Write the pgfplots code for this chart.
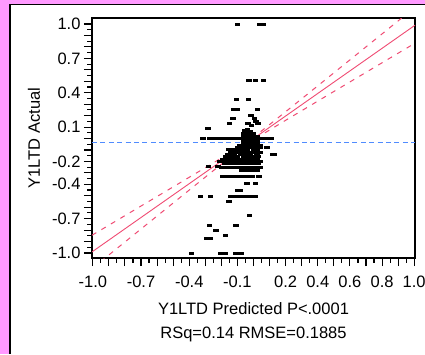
\documentclass[border=0pt]{standalone}
\usepackage{fontspec}
\setmainfont{Liberation Sans}
\usepackage{pgfplots}
\pgfplotsset{compat=1.18}
\definecolor{bgpink}{RGB}{255,153,255}
\definecolor{fitred}{RGB}{240,75,115}
\definecolor{meanblue}{RGB}{80,140,255}
\pgfdeclareplotmark{jmpbar}{\pgfpathrectangle{\pgfpoint{-2.8pt}{-1.5pt}}{\pgfpoint{5.6pt}{3pt}}\pgfusepathqfill}
\begin{document}
\begin{tikzpicture}
\useasboundingbox (0,0) rectangle (425pt,354pt);
\fill[bgpink] (0,0) rectangle (425pt,354pt);
\fill[white] (10pt,0) rectangle (425pt,349.7pt);
\draw[black,line width=1.2pt] (10pt,0) -- (10pt,349.7pt) -- (426pt,349.7pt);
\begin{axis}[
  at={(92pt,96pt)}, anchor=south west, scale only axis,
  width=323pt, height=240pt,
  xmin=-1.005, xmax=1.005, ymin=-1.0437, ymax=1.0524,
  axis line style={line width=1.2pt},
  tick align=outside, xtick pos=bottom, ytick pos=left,
  major tick length=8pt, minor tick length=4.5pt, minor tick num=1,
  every tick/.style={black,line width=1.1pt},
  xtick={-1,-0.9,-0.8,-0.7,-0.6,-0.5,-0.4,-0.3,-0.2,-0.1,0,0.1,0.2,0.3,0.4,0.5,0.6,0.7,0.8,0.9,1},
  ytick={-1,-0.9,-0.8,-0.7,-0.6,-0.5,-0.4,-0.3,-0.2,-0.1,0,0.1,0.2,0.3,0.4,0.5,0.6,0.7,0.8,0.9,1},
  xticklabels={-1.0,,,-0.7,,,-0.4,,,-0.1,,,0.2,,0.4,,0.6,,0.8,,1.0},
  yticklabels={-1.0,,,-0.7,,,-0.4,,-0.2,,,0.1,,,0.4,,,0.7,,,1.0},
  ticklabel style={font=\fontsize{16.5}{19}\selectfont},
  xticklabel style={yshift=-6pt},
  xlabel={Y1LTD Predicted P<.0001\\RSq=0.14 RMSE=0.1885},
  xlabel style={at={(rel axis cs:0.5,0)}, anchor=north, yshift=-41pt, align=center, font=\fontsize{16.5}{24}\selectfont},
  ylabel={Y1LTD Actual},
  ylabel style={at={(rel axis cs:-0.1796,0.5)}, anchor=center, font=\fontsize{16.5}{19}\selectfont},
]
% mean of actual
\addplot[meanblue, line width=1.3pt, dash pattern=on 5pt off 3.4pt] coordinates {(-1.005,-0.037) (1.005,-0.037)};
% points
\addplot[only marks, mark=jmpbar, black] coordinates {
(-0.100,1.0) (0.040,1.0) (0.058,1.0)
(-0.029,0.505) (0.012,0.505) (0.062,0.505)
(-0.106,0.338) (-0.032,0.338)
(-0.122,0.257) (-0.104,0.257) (0.025,0.257)
(-0.014,0.205) (-0.128,0.176) (0.006,0.176) (0.017,0.150) (-0.149,0.133) (-0.035,0.133) (0.027,0.133) (-0.012,0.110)
(-0.284,0.089)
(-0.055,0.072) (-0.038,0.075)
(-0.315,0.0) (-0.270,0.0) (-0.250,0.0) (-0.230,0.0) (-0.210,0.0) (-0.190,0.0) (-0.170,0.0) (-0.150,0.0) (-0.130,0.0) (-0.110,0.0) (-0.090,0.0) (-0.070,0.0) (-0.050,0.0) (-0.030,0.0) (-0.010,0.0) (0.010,0.0) (0.030,0.0) (0.050,0.0) (0.070,0.0) (0.090,0.0) (0.110,0.0)
(-0.04,0.06) (-0.02,0.06)
(-0.06,0.04) (-0.04,0.04) (-0.02,0.04) (0.0,0.04)
(-0.06,0.02) (-0.04,0.02) (-0.02,0.02) (0.0,0.02) (0.02,0.02)
(-0.06,-0.02) (-0.04,-0.02) (-0.02,-0.02) (0.0,-0.02) (0.02,-0.02)
(-0.06,-0.04) (-0.04,-0.04) (-0.02,-0.04) (0.0,-0.04) (0.02,-0.04)
(-0.08,-0.06) (-0.06,-0.06) (-0.04,-0.06) (-0.02,-0.06) (0.0,-0.06) (0.02,-0.06) (0.04,-0.06)
(-0.10,-0.08) (-0.08,-0.08) (-0.06,-0.08) (-0.04,-0.08) (-0.02,-0.08) (0.0,-0.08) (0.02,-0.08) (0.04,-0.08)
(-0.12,-0.10) (-0.10,-0.10) (-0.08,-0.10) (-0.06,-0.10) (-0.04,-0.10) (0.0,-0.10) (0.02,-0.10)
(-0.14,-0.12) (-0.12,-0.12) (-0.10,-0.12) (-0.08,-0.12) (-0.06,-0.12) (-0.04,-0.12) (-0.02,-0.12) (0.0,-0.12) (0.02,-0.12) (0.04,-0.12)
(-0.16,-0.14) (-0.14,-0.14) (-0.12,-0.14) (-0.08,-0.14) (-0.06,-0.14) (-0.04,-0.14) (-0.02,-0.14) (0.02,-0.14)
(-0.17,-0.16) (-0.15,-0.16) (-0.12,-0.16) (-0.10,-0.16) (-0.06,-0.16) (-0.04,-0.16) (-0.02,-0.16) (0.0,-0.16) (0.03,-0.16)
(-0.19,-0.18) (-0.17,-0.18) (-0.14,-0.18) (-0.12,-0.18) (-0.10,-0.18) (-0.08,-0.18) (-0.05,-0.18) (-0.03,-0.18) (0.0,-0.18) (0.02,-0.18)
(-0.21,-0.20) (-0.19,-0.20) (-0.16,-0.20) (-0.13,-0.20) (-0.11,-0.20) (-0.08,-0.20) (-0.06,-0.20) (-0.04,-0.20) (-0.01,-0.20) (0.02,-0.20) (0.04,-0.20)
(-0.18,-0.22) (-0.15,-0.22) (-0.12,-0.22) (-0.09,-0.22) (-0.06,-0.22) (-0.03,-0.22) (0.0,-0.22) (0.03,-0.22)
(-0.20,-0.25) (-0.18,-0.25) (-0.16,-0.25) (-0.14,-0.25) (-0.12,-0.25) (-0.10,-0.25) (-0.08,-0.25) (-0.06,-0.25) (-0.04,-0.25) (-0.02,-0.25) (0.0,-0.25) (0.02,-0.25) (0.04,-0.25)
(-0.07,-0.28) (-0.04,-0.28) (-0.01,-0.28) (0.02,-0.28)
(-0.19,-0.333) (-0.17,-0.333) (-0.15,-0.333) (-0.13,-0.333) (-0.11,-0.333) (-0.09,-0.333) (-0.07,-0.333) (-0.05,-0.333) (-0.03,-0.333) (-0.01,-0.333) (0.033,-0.333)
(0.085,-0.080) (0.118,-0.137) (0.130,-0.137)
(-0.087,-0.057) (-0.155,-0.100)
(-0.280,-0.248) (-0.220,-0.248)
(-0.042,-0.390) (0.012,-0.390)
(-0.100,-0.450) (-0.080,-0.450)
(-0.330,-0.505) (-0.267,-0.505) (-0.143,-0.505) (-0.110,-0.505) (-0.090,-0.505) (-0.070,-0.505) (-0.050,-0.505) (-0.020,-0.505) (0.010,-0.505)
(-0.153,-0.546)
(-0.025,-0.674)
(-0.273,-0.757) (-0.108,-0.757)
(-0.232,-0.800)
(-0.174,-0.843)
(-0.290,-0.870) (-0.268,-0.870)
(-0.387,-1.0) (-0.205,-1.0) (-0.175,-1.0) (-0.110,-1.0) (-0.075,-1.0)
};
% fit line
\addplot[fitred, line width=0.9pt] coordinates {(-1.005,-0.9905) (1.005,0.9894)};
% confidence curves
\addplot[fitred, line width=1pt, dash pattern=on 5pt off 6pt, smooth] coordinates {
(-1.005,-0.8448) (-0.9,-0.7571) (-0.8,-0.6735) (-0.7,-0.5899) (-0.6,-0.5063) (-0.5,-0.4226) (-0.4,-0.3388) (-0.3,-0.2549) (-0.2,-0.1704) (-0.15,-0.1275) (-0.1,-0.0838) (-0.037,-0.025) (0,0.0126) (0.05,0.0664) (0.1,0.1217) (0.2,0.2339) (0.3,0.3469) (0.4,0.4600) (0.5,0.5733) (0.6,0.6867) (0.7,0.8001) (0.8,0.9135) (0.9,1.0270) (1.005,1.1462)};
\addplot[fitred, line width=1pt, dash pattern=on 5pt off 6pt, smooth] coordinates {
(-1.005,-1.1362) (-0.9,-1.0171) (-0.8,-0.9037) (-0.7,-0.7903) (-0.6,-0.6769) (-0.5,-0.5636) (-0.4,-0.4504) (-0.3,-0.3373) (-0.2,-0.2248) (-0.15,-0.1691) (-0.1,-0.1144) (-0.037,-0.049) (0,-0.0138) (0.05,0.031) (0.1,0.0741) (0.2,0.1589) (0.3,0.2429) (0.4,0.3268) (0.5,0.4105) (0.6,0.4941) (0.7,0.5777) (0.8,0.6613) (0.9,0.7448) (1.005,0.8326)};
\end{axis}
\end{tikzpicture}
\end{document}
